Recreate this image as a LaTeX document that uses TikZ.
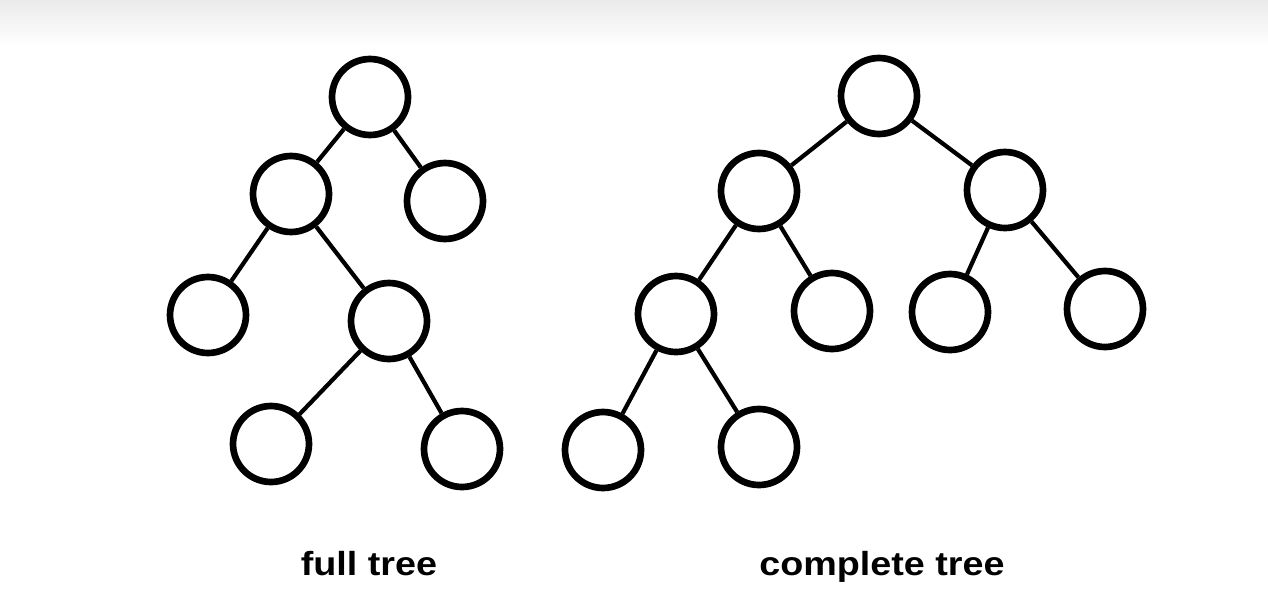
\documentclass[tikz,border=0pt]{standalone}
\usepackage{fontspec}
\setmainfont{Liberation Sans}
\tikzset{
	vertex/.style={circle, draw, line width=3.8pt, minimum size=1.52cm, inner sep=0pt},
	branch/.style={line width=2.4pt},
	caption/.style={font=\bfseries\fontsize{19}{22}\selectfont, anchor=base}
}
\begin{document}
\begin{tikzpicture}[x=0.02cm, y=-0.02cm]
	\useasboundingbox (0,0) rectangle (1268,612);
	\shade[top color=black!8, bottom color=white] (0,0) rectangle (1268,46);
	% full tree
	\node[vertex] (f) at (370,97) {};
	\node[vertex] (fl) at (291,194) {};
	\node[vertex] (fr) at (445,201) {};
	\node[vertex] (fll) at (208,315) {};
	\node[vertex] (flr) at (389,321) {};
	\node[vertex] (flrl) at (271,444) {};
	\node[vertex] (flrr) at (462,449) {};
	\draw[branch] (f) -- (fl);
	\draw[branch] (f) -- (fr);
	\draw[branch] (fl) -- (fll);
	\draw[branch] (fl) -- (flr);
	\draw[branch] (flr) -- (flrl);
	\draw[branch] (flr) -- (flrr);
	\node[caption] (fcap) at (369,575) {\scalebox{1.13}[1]{full tree}};
	% complete tree
	\node[vertex] (c) at (879,96) {};
	\node[vertex] (cl) at (759,191) {};
	\node[vertex] (cr) at (1005,190) {};
	\node[vertex] (cll) at (676,314) {};
	\node[vertex] (clr) at (832,311) {};
	\node[vertex] (crl) at (950,312) {};
	\node[vertex] (crr) at (1105,309) {};
	\node[vertex] (clll) at (603,450) {};
	\node[vertex] (cllr) at (759,447) {};
	\draw[branch] (c) -- (cl);
	\draw[branch] (c) -- (cr);
	\draw[branch] (cl) -- (cll);
	\draw[branch] (cl) -- (clr);
	\draw[branch] (cr) -- (crl);
	\draw[branch] (cr) -- (crr);
	\draw[branch] (cll) -- (clll);
	\draw[branch] (cll) -- (cllr);
	\node[caption] (ccap) at (882,575) {\scalebox{1.13}[1]{complete tree}};
\end{tikzpicture}
\end{document}
